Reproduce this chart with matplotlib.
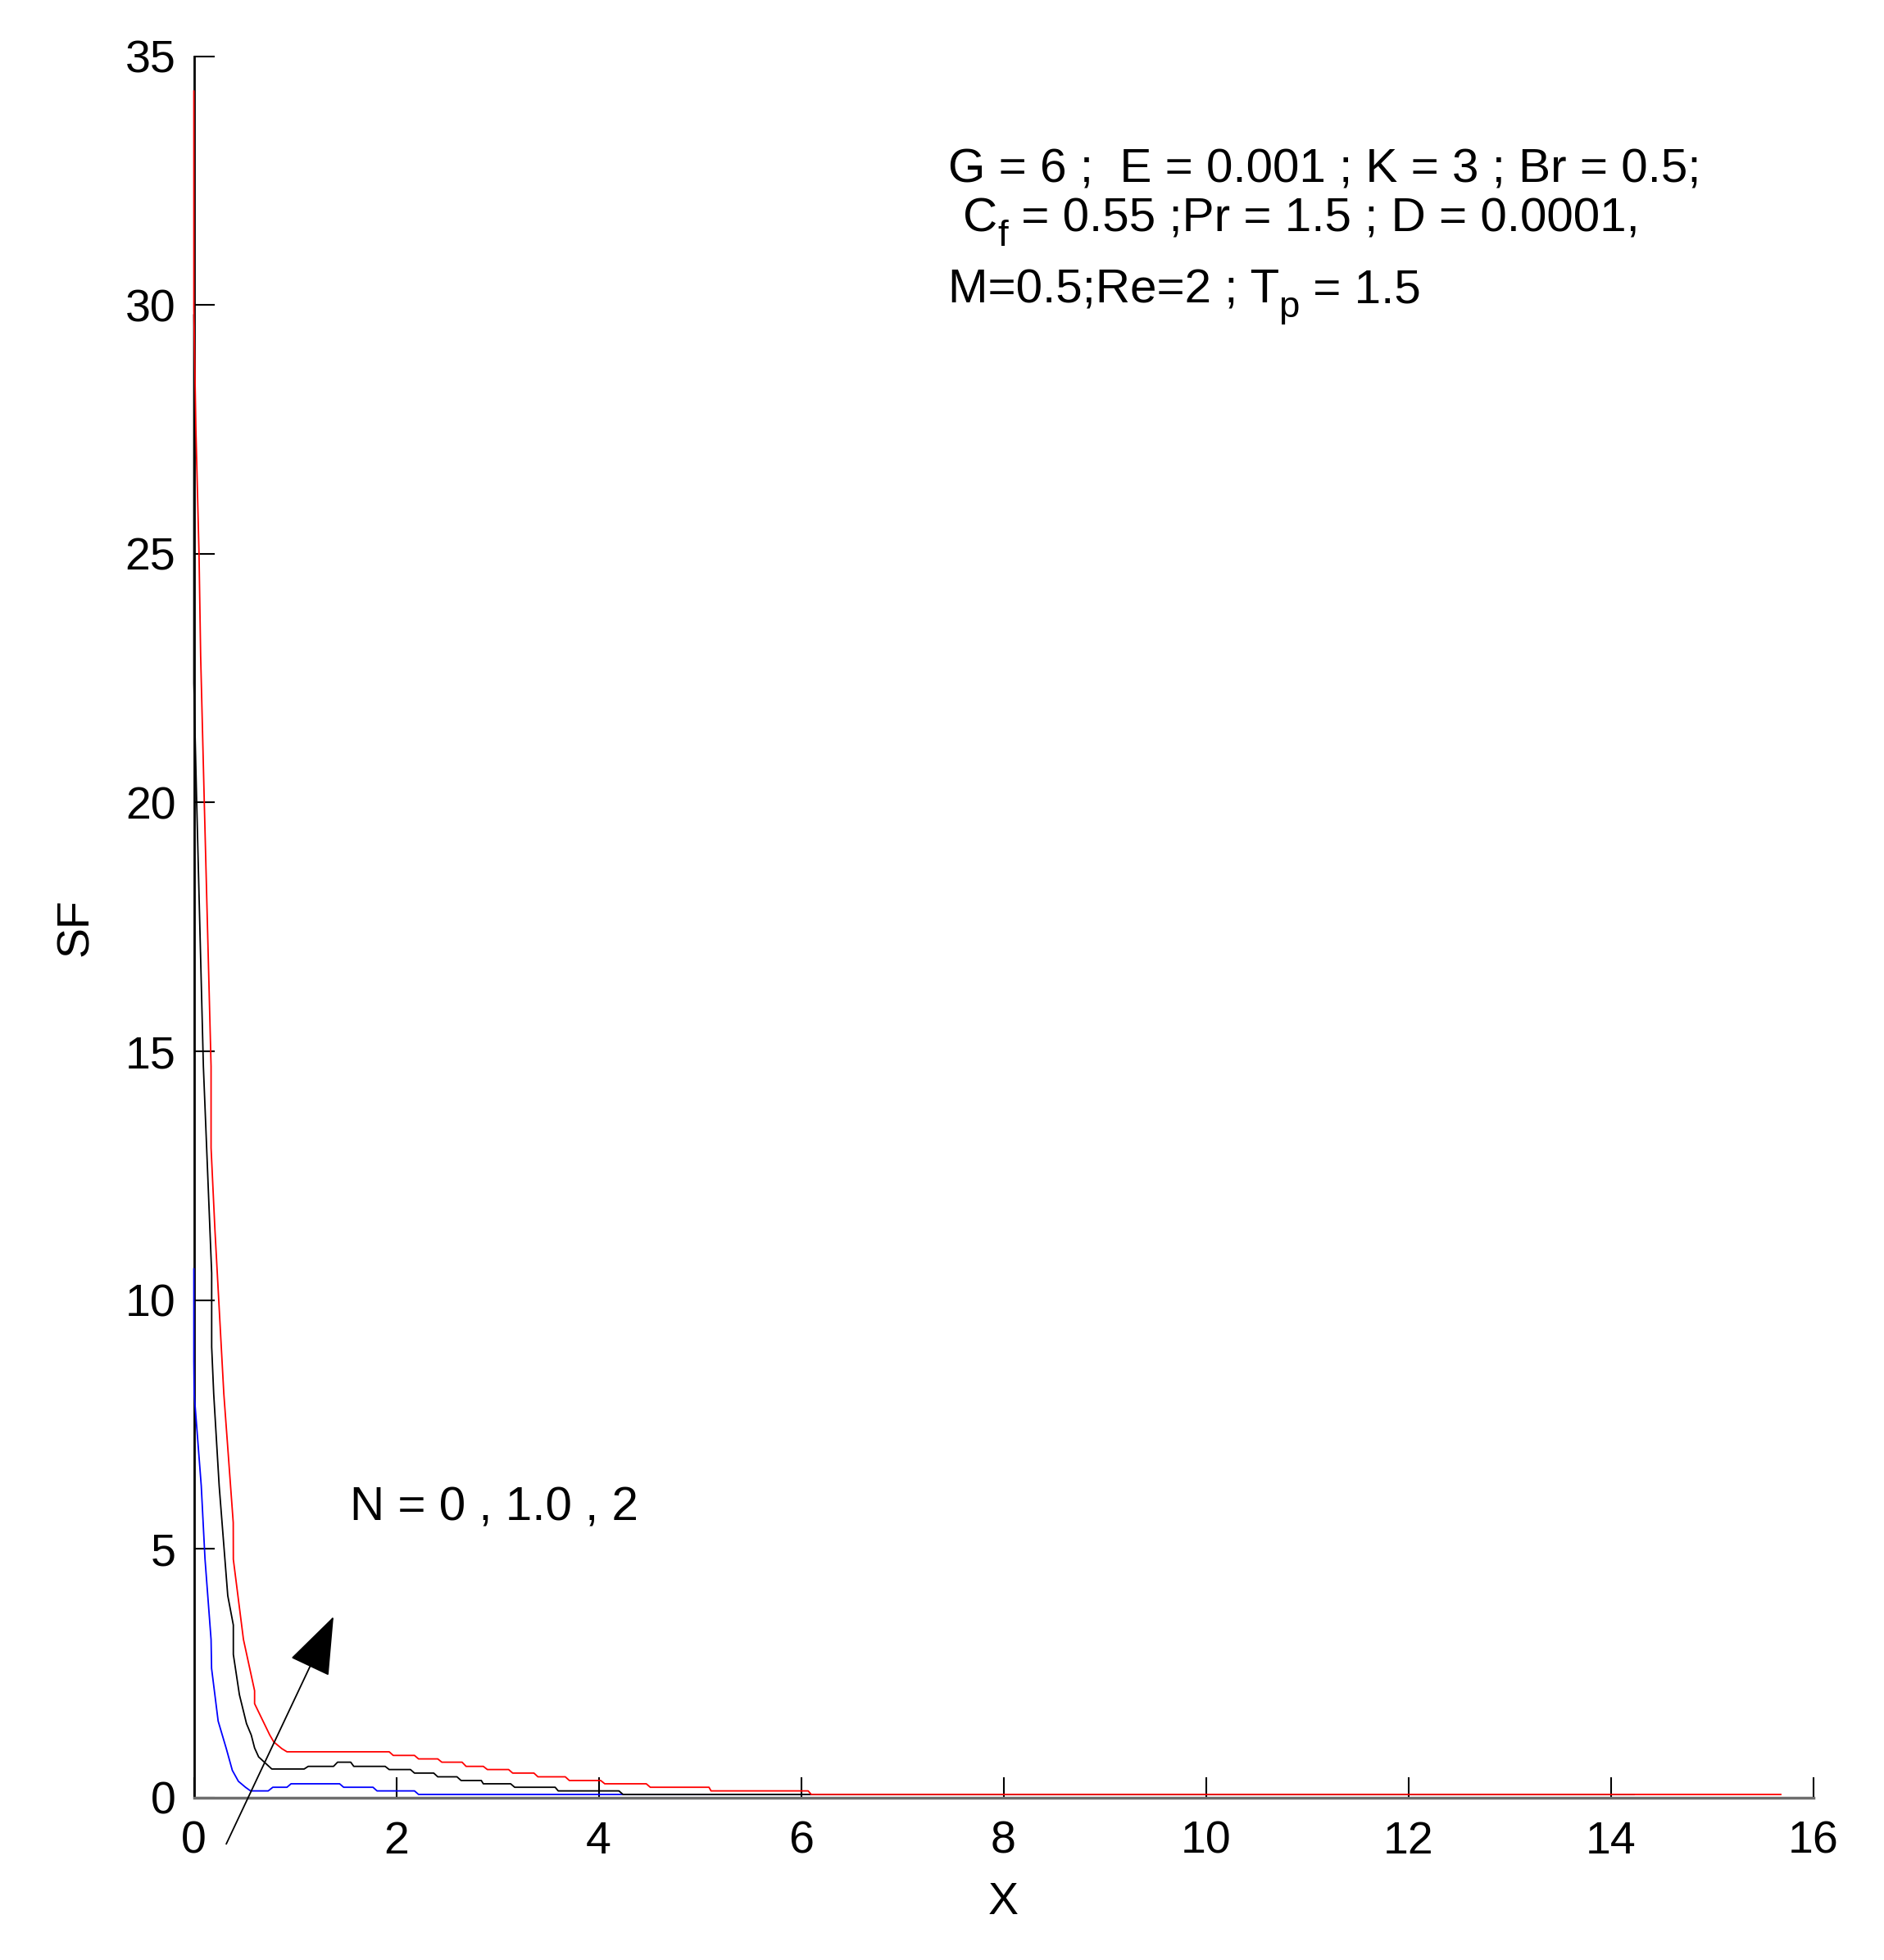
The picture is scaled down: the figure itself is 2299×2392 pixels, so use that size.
#! /usr/bin/env python3
# -*- coding: utf-8 -*-
"""
SF against X for three values of N (0, 1.0, 2)
writes out.png
"""

import matplotlib
matplotlib.use("Agg")
import matplotlib.pyplot as plt
import matplotlib.transforms as mtransforms

# -----------------------------------------------------------------------------

# N = 0 (blue)
x_n0  = [0.0, 0.0, 0.003, 0.073, 0.11, 0.17, 0.175, 0.24, 0.32, 0.38, 0.44,
         0.51, 0.56, 0.735, 0.78, 0.92, 0.96, 1.44, 1.48, 1.77, 1.81, 2.18,
         2.22, 12.71]
sf_n0 = [10.63, 8.78, 8.12, 6.27, 4.8, 3.18, 2.6, 1.54, 0.99, 0.55, 0.33,
         0.21, 0.137, 0.137, 0.21, 0.21, 0.28, 0.28, 0.21, 0.21, 0.137, 0.137,
         0.066, 0.066]

# N = 1.0 (black)
x_n1  = [0.0, 0.0, 0.028, 0.094, 0.176, 0.176, 0.196, 0.25, 0.335, 0.39, 0.39,
         0.45, 0.52, 0.567, 0.60, 0.64, 0.77, 1.09, 1.13, 1.38, 1.42, 1.55,
         1.58, 1.89, 1.93, 2.14, 2.18, 2.37, 2.41, 2.60, 2.64, 2.84, 2.86,
         3.13, 3.17, 3.57, 3.60, 4.20, 4.24, 14.23]
sf_n1 = [29.8, 22.4, 20.0, 14.7, 10.54, 9.06, 8.12, 6.27, 4.06, 3.47, 2.88,
         2.07, 1.49, 1.26, 1.0, 0.82, 0.577, 0.577, 0.63, 0.63, 0.714, 0.714,
         0.63, 0.63, 0.566, 0.566, 0.495, 0.495, 0.42, 0.42, 0.346, 0.346,
         0.28, 0.28, 0.21, 0.21, 0.137, 0.137, 0.066, 0.066]

# N = 2 (red)
x_n2  = [0.0, 0.0, 0.02, 0.051, 0.067, 0.103, 0.17, 0.17, 0.208, 0.296, 0.389,
         0.39, 0.49, 0.60, 0.60, 0.75, 0.79, 0.87, 0.92, 1.93, 1.97, 2.18,
         2.22, 2.41, 2.45, 2.65, 2.69, 2.86, 2.90, 3.11, 3.15, 3.36, 3.40,
         3.67, 3.71, 4.02, 4.06, 4.47, 4.51, 5.09, 5.11, 6.07, 6.10, 15.68]
sf_n2 = [34.3, 29.9, 27.5, 25.0, 22.95, 20.0, 14.7, 13.06, 11.42, 8.12, 5.53,
         4.79, 3.18, 2.15, 1.89, 1.26, 1.12, 0.985, 0.923, 0.923, 0.85, 0.85,
         0.78, 0.78, 0.714, 0.714, 0.63, 0.63, 0.566, 0.566, 0.495, 0.495,
         0.42, 0.42, 0.346, 0.346, 0.28, 0.28, 0.21, 0.21, 0.137, 0.137,
         0.066, 0.066]

x_ticks = [0, 2, 4, 6, 8, 10, 12, 14, 16]
y_ticks = [0, 5, 10, 15, 20, 25, 30, 35]

# parameter block: pieces of (text, is_subscript) per line
param_line1 = [("G = 6 ;  E = 0.001 ; K = 3 ; Br = 0.5;", False)]
param_line2 = [("C", False), ("f", True), (" = 0.55 ;Pr = 1.5 ; D = 0.0001,", False)]
param_line3 = [("M=0.5;Re=2 ; T", False), ("p", True), (" = 1.5", False)]
n_label = "N = 0 , 1.0 , 2"

FS = 42          # annotation font size
FS_TICK = 40     # tick label font size

# -----------------------------------------------------------------------------

def TextWidth(fig, renderer, txt, size):
    """width of txt in points, spaces at the ends included"""
    t1 = fig.text(0, 0, "|" + txt + "|", fontsize=size)
    t2 = fig.text(0, 0, "||", fontsize=size)
    w = t1.get_window_extent(renderer).width - t2.get_window_extent(renderer).width
    t1.remove()
    t2.remove()
    return w * 72.0 / fig.dpi

# -----------------------------------------------------------------------------

def RichText(ax, x, y, pieces, size):
    """draw text pieces side by side, subscripts smaller and lowered"""
    fig = ax.figure
    renderer = fig.canvas.get_renderer()
    dx = 0.0
    for txt, sub in pieces:
        fs = size * 0.78 if sub else size
        dy = -13.0 if sub else 0.0
        tr = mtransforms.offset_copy(ax.transData, fig=fig, x=dx, y=dy,
                                     units='points')
        ax.text(x, y, txt, fontsize=fs, transform=tr)
        dx += TextWidth(fig, renderer, txt, fs)

# -----------------------------------------------------------------------------

def MakePlot():
    """draw the three SF curves with annotations"""
    plt.rcParams['font.family'] = ['Liberation Sans', 'DejaVu Sans']

    fig = plt.figure(figsize=(22.99, 23.92), dpi=100)
    ax = fig.add_axes([0.1029, 0.0828, 0.8595, 0.8885])

    ax.plot(x_n0, sf_n0, color='#0000ff', lw=1.3, clip_on=False, zorder=3)
    ax.plot(x_n1, sf_n1, color='#000000', lw=1.3, clip_on=False, zorder=3)
    ax.plot(x_n2, sf_n2, color='#ff0000', lw=1.3, clip_on=False, zorder=3)

    ax.set_xlim(0, 16)
    ax.set_ylim(0, 35)
    ax.set_xticks(x_ticks)
    ax.set_yticks(y_ticks)
    ax.tick_params(direction='in', length=18, width=1.5, labelsize=FS_TICK)
    ax.tick_params(axis='x', pad=20)
    ax.tick_params(axis='y', pad=16)

    for side in ('top', 'right'):
        ax.spines[side].set_visible(False)
    ax.spines['left'].set_linewidth(2)
    ax.spines['bottom'].set_linewidth(2.5)
    ax.spines['bottom'].set_color('#6e6e6e')

    ax.set_xlabel('X', fontsize=FS_TICK, labelpad=16)
    ax.set_ylabel('SF', fontsize=FS_TICK, labelpad=24)

    # parameter text, top right
    RichText(ax, 7.45, 32.46, param_line1, FS)
    RichText(ax, 7.60, 31.48, param_line2, FS)
    RichText(ax, 7.45, 30.05, param_line3, FS)

    # arrow and N label
    ax.annotate('', xy=(1.38, 3.64), xytext=(0.32, -0.93),
                annotation_clip=False,
                arrowprops=dict(arrowstyle='-|>,head_length=4.6,head_width=1.7',
                                mutation_scale=10, lw=1.3, color='k',
                                shrinkA=0, shrinkB=0))
    ax.text(1.544, 5.58, n_label, fontsize=FS)

    fig.savefig('out.png', dpi=100)

# -----------------------------------------------------------------------------

if __name__ == "__main__":
    MakePlot()
